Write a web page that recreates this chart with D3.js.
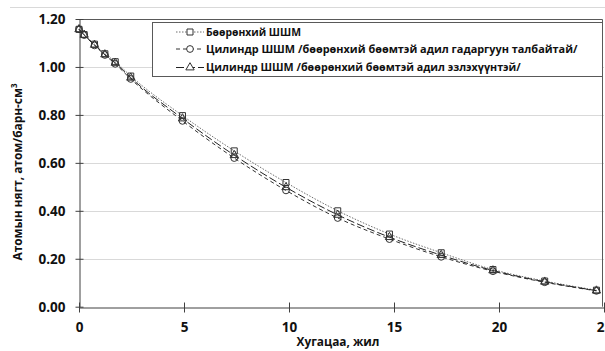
<!DOCTYPE html>
<html><head><meta charset="utf-8">
<script src="https://cdn.jsdelivr.net/npm/d3@7"></script>
<style>body{margin:0;background:#fff}svg{display:block}text{font-family:"Open Sans",sans-serif;font-weight:bold;fill:#111}</style>
</head><body><svg id="c" width="605" height="351"></svg>
<script>
const timeYears = [0, 0.246, 0.739, 1.232, 1.725, 2.464, 4.928, 7.392, 9.856, 12.32, 14.784, 17.248, 19.712, 22.176, 24.64];
const sphere   = [1.157, 1.135, 1.095, 1.055, 1.022, 0.962, 0.797, 0.650, 0.518, 0.400, 0.303, 0.225, 0.155, 0.107, 0.069];
const cylArea  = [1.157, 1.133, 1.090, 1.050, 1.013, 0.950, 0.775, 0.620, 0.485, 0.370, 0.282, 0.208, 0.148, 0.102, 0.066];
const cylVol   = [1.157, 1.134, 1.092, 1.052, 1.017, 0.955, 0.785, 0.632, 0.498, 0.383, 0.290, 0.215, 0.151, 0.104, 0.067];
const seriesNames = ["Бөөрөнхий ШШМ", "Цилиндр ШШМ /бөөрөнхий бөөмтэй адил гадаргуун талбайтай/", "Цилиндр ШШМ /бөөрөнхий бөөмтэй адил эзлэхүүнтэй/"];
const xTicks = [0, 5, 10, 15, 20, 25];
const yTicks = [0, 0.2, 0.4, 0.6, 0.8, 1.0, 1.2];
const xTitle = "Хугацаа, жил";
const yTitle = "Атомын нягт, атом/барн-см";

const svg = d3.select("#c");
const L = 79, R = 604, T = 19, B = 306.7;
const x = d3.scaleLinear().domain([0, 25]).range([L, R]);
const y = d3.scaleLinear().domain([0, 1.2]).range([B, T]);

function fit(sel, target, base) {
  sel.style("font-size", base + "px");
  const w = sel.node().getComputedTextLength();
  sel.style("font-size", (base * target / w).toFixed(2) + "px");
}

// outer chart border (top)
svg.append("line").attr("x1", 10).attr("x2", 605).attr("y1", 7.5).attr("y2", 7.5).attr("stroke", "#d9d9d9");

// gridlines
svg.append("g").selectAll("line").data(yTicks.filter(d => d > 0 && d < 1.2)).join("line")
  .attr("x1", L).attr("x2", R).attr("y1", d => Math.round(y(d)) + 0.5).attr("y2", d => Math.round(y(d)) + 0.5)
  .attr("stroke", "#d9d9d9");

// plot border top/right
svg.append("path").attr("d", `M${L},${Math.round(T)+0.5}H${R-1.5}V${B}`).attr("fill", "none").attr("stroke", "#595959");

// axes
const xAxis = d3.axisBottom(x).tickValues(xTicks).tickSize(0).tickFormat(d3.format("d"));
const gx = svg.append("g").attr("transform", `translate(0,${Math.round(B)+0.5})`).call(xAxis);
gx.select(".domain").attr("stroke", "#404040");
gx.selectAll(".tick text").attr("dy", null).attr("y", 24).style("font-size", "13.5px");
gx.selectAll(".tick").append("line").attr("y1", -5).attr("y2", 5).attr("stroke", "#404040");

const yAxis = d3.axisLeft(y).tickValues(yTicks).tickSize(0).tickFormat(d3.format(".2f"));
const gy = svg.append("g").attr("transform", `translate(${L+0.5},0)`).call(yAxis);
gy.select(".domain").attr("stroke", "#404040");
gy.selectAll(".tick text").attr("x", -14).style("font-size", "13.5px");
gy.selectAll(".tick").append("line").attr("x1", -4).attr("x2", 4).attr("stroke", "#404040");

// titles
const xt = svg.append("text").attr("x", 338).attr("y", 346).attr("text-anchor", "middle").text(xTitle);
fit(xt, 83, 12);
const yt = svg.append("text").attr("transform", "translate(22,172) rotate(-90)").attr("text-anchor", "middle");
yt.append("tspan").text(yTitle);
yt.append("tspan").attr("dy", -5).style("font-size", "8px").text("3");
fit(yt, 177, 12);
yt.select("tspan:last-child").style("font-size", "8px");

// series
const styles = [
  {data: sphere, dash: "1.5,1.5", color: "#6e6e6e", marker: d3.symbolSquare},
  {data: cylArea, dash: "4,3", color: "#333", marker: d3.symbolCircle},
  {data: cylVol, dash: "8,3", color: "#222", marker: d3.symbolTriangle}
];
const line = d3.line().curve(d3.curveMonotoneX);
styles.forEach(s => {
  const pts = timeYears.map((t, i) => [x(t), y(s.data[i])]);
  svg.append("path").attr("d", line(pts)).attr("fill", "none").attr("stroke", s.color)
    .attr("stroke-width", 1).attr("stroke-dasharray", s.dash);
});
styles.forEach(s => {
  const sym = d3.symbol().type(s.marker).size(s.marker === d3.symbolTriangle ? 30 : 36);
  svg.append("g").selectAll("path").data(timeYears).join("path")
    .attr("transform", (t, i) => `translate(${x(t)},${y(s.data[i])})`)
    .attr("d", sym).attr("fill", "none").attr("stroke", "#333").attr("stroke-width", 1);
});

// legend
svg.append("rect").attr("x", 152.5).attr("y", 22.5).attr("width", 450).attr("height", 54)
  .attr("fill", "#fff").attr("stroke", "#595959");
const legY = [32, 49, 67.5];
const legW = [95, 372, 315];
styles.forEach((s, i) => {
  svg.append("line").attr("x1", 176).attr("x2", 204).attr("y1", legY[i]).attr("y2", legY[i])
    .attr("stroke", s.color).attr("stroke-dasharray", s.dash);
  svg.append("path").attr("transform", `translate(190,${legY[i]})`)
    .attr("d", d3.symbol().type(s.marker).size(s.marker === d3.symbolTriangle ? 30 : 36)())
    .attr("fill", "#fff").attr("stroke", "#333");
  const t = svg.append("text").attr("x", 206).attr("y", legY[i]).attr("dy", "0.35em").text(seriesNames[i]);
  fit(t, legW[i], 12);
});
</script></body></html>
